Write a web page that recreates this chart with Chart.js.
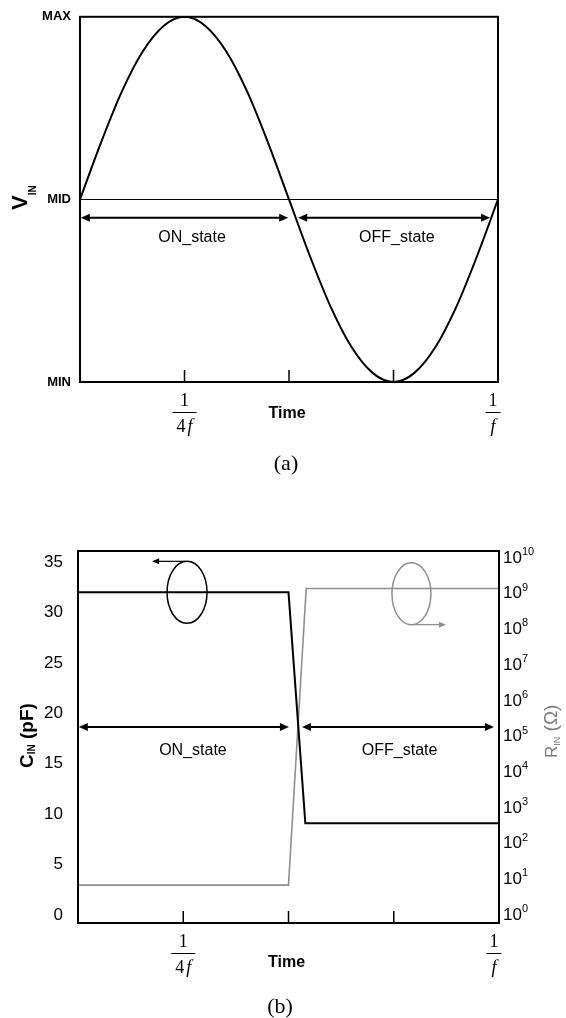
<!DOCTYPE html>
<html>
<head>
<meta charset="utf-8">
<title>V_IN, C_IN and R_IN over one period</title>
<script src="https://cdn.jsdelivr.net/npm/chart.js@4.4.1/dist/chart.umd.min.js"></script>
<style>
body { margin: 0; background: #fff; }
.panel { position: absolute; left: 0; width: 566px; }
#panelA { top: 0; height: 455px; }
#panelB { top: 500px; height: 518px; }
.caption { position: absolute; font: 22px "Liberation Serif", "Times New Roman", serif; color: #000; transform: translate(-50%, -50%); }
</style>
</head>
<body>
<div class="panel" id="panelA"><canvas id="chartA"></canvas></div>
<div class="caption" style="left:286px; top:463px">(a)</div>
<div class="panel" id="panelB"><canvas id="chartB"></canvas></div>
<div class="caption" style="left:280px; top:1006px">(b)</div>
<script>
// (a) input voltage over one period, time in units of 1/f
const timeA = [0, 0.05, 0.1, 0.15, 0.2, 0.25, 0.3, 0.35, 0.4, 0.45, 0.5, 0.55, 0.6, 0.65, 0.7, 0.75, 0.8, 0.85, 0.9, 0.95, 1]
const vIn = [0, 0.31, 0.59, 0.81, 0.95, 1, 0.95, 0.81, 0.59, 0.31, 0, -0.31, -0.59, -0.81, -0.95, -1, -0.95, -0.81, -0.59, -0.31, 0]
const vTicks = [-1, 0, 1]
const vTickLabels = ['MIN', 'MID', 'MAX']

// (b) input capacitance (left axis, pF) and input resistance (right axis, ohm)
const timeC = [0, 0.5, 0.54, 1]
const cIn = [32, 32, 9.1, 9.1]
const timeR = [0, 0.5, 0.542, 1]
const rIn = [6.9, 6.9, 1.4e9, 1.4e9]
const cTicks = [0, 5, 10, 15, 20, 25, 30, 35]
const rTicks = [1e0, 1e1, 1e2, 1e3, 1e4, 1e5, 1e6, 1e7, 1e8, 1e9, 1e10]

// time axis
const timeTicks = [0.25, 0.5, 0.75]
const fracTicks = [0.25, 1]
const fracDigits = ['4', '']

// ON / OFF state arrows (time spans) and their labels
const stateNames = ['ON_state', 'OFF_state']
const stateSpansA = [[0.002, 0.498], [0.522, 0.981]]
const stateTextA = [0.268, 0.758]
const stateSpansB = [[0.002, 0.501], [0.532, 0.988]]
const stateTextB = [0.273, 0.764]

const SANS = '"Liberation Sans", Arial, sans-serif'
const SERIF = '"Liberation Serif", "Times New Roman", serif'

Chart.defaults.font.family = SANS
Chart.defaults.color = '#000'

function arrowHead(ctx, x, y, dir, len, half) {
    ctx.beginPath()
    ctx.moveTo(x, y)
    ctx.lineTo(x - dir * len, y - half)
    ctx.lineTo(x - dir * len, y + half)
    ctx.closePath()
    ctx.fill()
}

function doubleArrow(ctx, x1, x2, y) {
    ctx.lineWidth = 2
    ctx.beginPath()
    ctx.moveTo(x1 + 5, y)
    ctx.lineTo(x2 - 5, y)
    ctx.stroke()
    arrowHead(ctx, x1, y, -1, 9, 4)
    arrowHead(ctx, x2, y, 1, 9, 4)
}

function drawStates(chart, spans, textAt, yLine, yText) {
    const ctx = chart.ctx, x = chart.scales.x
    ctx.strokeStyle = '#000'
    ctx.fillStyle = '#000'
    spans.forEach(s => doubleArrow(ctx, x.getPixelForValue(s[0]), x.getPixelForValue(s[1]), yLine))
    ctx.font = '16px ' + SANS
    ctx.textAlign = 'center'
    ctx.textBaseline = 'middle'
    textAt.forEach((t, i) => ctx.fillText(stateNames[i], x.getPixelForValue(t), yText))
}

// text written bottom to top, parts = [text, font, shift below baseline]
function sideLabel(ctx, x, yBottom, parts, color) {
    ctx.save()
    ctx.translate(x, yBottom)
    ctx.rotate(-Math.PI / 2)
    ctx.fillStyle = color
    ctx.textAlign = 'left'
    ctx.textBaseline = 'alphabetic'
    let pos = 0
    parts.forEach(p => {
        ctx.font = p[1]
        ctx.fillText(p[0], pos, p[2])
        pos += ctx.measureText(p[0]).width
    })
    ctx.restore()
}

function drawTimeAxis(chart, timeDy) {
    const ctx = chart.ctx, area = chart.chartArea, x = chart.scales.x
    ctx.strokeStyle = '#000'
    ctx.fillStyle = '#000'
    ctx.lineWidth = 1.5
    timeTicks.forEach(t => {
        const px = x.getPixelForValue(t)
        ctx.beginPath()
        ctx.moveTo(px, area.bottom)
        ctx.lineTo(px, area.bottom - 12)
        ctx.stroke()
    })
    ctx.lineWidth = 2
    ctx.strokeRect(area.left, area.top, area.right - area.left, area.bottom - area.top)

    ctx.textBaseline = 'middle'
    fracTicks.forEach((t, i) => {
        const px = x.getPixelForValue(t) - (t === 1 ? 5 : 0)
        ctx.font = '18px ' + SERIF
        ctx.textAlign = 'center'
        ctx.fillText('1', px, area.bottom + 19)
        const wd = ctx.measureText(fracDigits[i]).width
        ctx.font = 'italic 18px ' + SERIF
        const wf = ctx.measureText('f').width
        const gap = fracDigits[i] ? 2 : 0
        const total = wd + gap + wf
        const x0 = px - total / 2
        ctx.textAlign = 'left'
        ctx.font = '18px ' + SERIF
        ctx.fillText(fracDigits[i], x0, area.bottom + 45)
        ctx.font = 'italic 18px ' + SERIF
        ctx.fillText('f', x0 + wd + gap, area.bottom + 45)
        const bw = Math.max(total + 8, 15)
        ctx.lineWidth = 1
        ctx.beginPath()
        ctx.moveTo(px - bw / 2, area.bottom + 30.5)
        ctx.lineTo(px + bw / 2, area.bottom + 30.5)
        ctx.stroke()
    })
    ctx.font = 'bold 16px ' + SANS
    ctx.textAlign = 'center'
    ctx.fillText('Time', x.getPixelForValue(0.5) - 2, area.bottom + timeDy)
}

// ---------- (a) ----------
new Chart(document.getElementById('chartA'), {
    type: 'line',
    data: {
        datasets: [{
            label: 'V_IN',
            data: timeA.map((t, i) => ({ x: t, y: vIn[i] })),
            borderColor: '#000',
            borderWidth: 2,
            pointRadius: 0,
            cubicInterpolationMode: 'monotone'
        }]
    },
    options: {
        responsive: true,
        maintainAspectRatio: false,
        animation: false,
        events: [],
        layout: { padding: { top: 11, right: 68, bottom: 73, left: 0 } },
        plugins: { legend: { display: false }, tooltip: { enabled: false } },
        scales: {
            x: { type: 'linear', min: 0, max: 1, display: false },
            y: {
                min: -1,
                max: 1,
                afterFit: s => { s.width = 80 },
                afterBuildTicks: s => { s.ticks = vTicks.map(v => ({ value: v })) },
                ticks: {
                    padding: 9,
                    font: { size: 13, weight: 'bold' },
                    callback: v => vTickLabels[vTicks.indexOf(v)]
                },
                grid: {
                    drawTicks: false,
                    lineWidth: 1,
                    color: c => (c.tick && c.tick.value === 0) ? '#000' : 'rgba(0,0,0,0)'
                },
                border: { display: false }
            }
        }
    },
    plugins: [{
        id: 'panelA',
        afterDraw(chart) {
            const ctx = chart.ctx, y = chart.scales.y
            ctx.save()
            drawTimeAxis(chart, 32)
            drawStates(chart, stateSpansA, stateTextA, y.getPixelForValue(-0.1), y.getPixelForValue(-0.207))
            sideLabel(ctx, 27, 210, [['V', 'bold 22px ' + SANS, 0], ['IN', 'bold 10px ' + SANS, 9]], '#000')
            ctx.restore()
        }
    }]
})

// ---------- (b) ----------
new Chart(document.getElementById('chartB'), {
    type: 'line',
    data: {
        datasets: [{
            label: 'C_IN',
            data: timeC.map((t, i) => ({ x: t, y: cIn[i] })),
            yAxisID: 'y',
            borderColor: '#000',
            borderWidth: 2,
            pointRadius: 0
        }, {
            label: 'R_IN',
            data: timeR.map((t, i) => ({ x: t, y: rIn[i] })),
            yAxisID: 'y1',
            borderColor: '#8f8f8f',
            borderWidth: 1.6,
            pointRadius: 0
        }]
    },
    options: {
        responsive: true,
        maintainAspectRatio: false,
        animation: false,
        events: [],
        layout: { padding: { top: 51, right: 0, bottom: 95, left: 0 } },
        plugins: { legend: { display: false }, tooltip: { enabled: false } },
        scales: {
            x: { type: 'linear', min: 0, max: 1, display: false },
            y: {
                position: 'left',
                min: -0.8,
                max: 36.1,
                afterFit: s => { s.width = 78 },
                afterBuildTicks: s => { s.ticks = cTicks.map(v => ({ value: v })) },
                ticks: { padding: 15, font: { size: 17 } },
                grid: { display: false, drawTicks: false },
                border: { display: false }
            },
            y1: {
                type: 'logarithmic',
                position: 'right',
                min: 0.637,
                max: 1.57e10,
                afterFit: s => { s.width = 67 },
                afterBuildTicks: s => { s.ticks = rTicks.map(v => ({ value: v })) },
                // labels are written by the panel plugin so the exponent can be raised
                ticks: { display: false },
                grid: { display: false, drawTicks: false },
                border: { display: false }
            }
        }
    },
    plugins: [{
        id: 'panelB',
        afterDraw(chart) {
            const ctx = chart.ctx, x = chart.scales.x, y = chart.scales.y, y1 = chart.scales.y1
            ctx.save()
            drawTimeAxis(chart, 40)
            drawStates(chart, stateSpansB, stateTextB, y.getPixelForValue(18.64), y.getPixelForValue(16.26))

            // right axis: 10 with raised exponent
            ctx.fillStyle = '#000'
            ctx.textAlign = 'left'
            ctx.textBaseline = 'middle'
            rTicks.forEach(v => {
                const py = y1.getPixelForValue(v)
                const lx = chart.chartArea.right + 4
                ctx.font = '17px ' + SANS
                ctx.fillText('10', lx, py)
                const w = ctx.measureText('10').width
                ctx.font = '11px ' + SANS
                ctx.fillText(String(Math.round(Math.log10(v))), lx + w, py - 6)
            })

            // loop marking the C_IN curve, arrow to the left axis
            const cx = x.getPixelForValue(0.259), cy = y.getPixelForValue(32)
            ctx.strokeStyle = '#000'
            ctx.fillStyle = '#000'
            ctx.lineWidth = 1.5
            ctx.beginPath()
            ctx.ellipse(cx, cy, 20, 31, 0, 0, Math.PI * 2)
            ctx.stroke()
            const tipL = x.getPixelForValue(0.176)
            ctx.lineWidth = 1.2
            ctx.beginPath()
            ctx.moveTo(cx - 2, cy - 31)
            ctx.lineTo(tipL + 5, cy - 31)
            ctx.stroke()
            arrowHead(ctx, tipL, cy - 31, -1, 7, 3)

            // loop marking the R_IN curve, arrow to the right axis
            const gx = x.getPixelForValue(0.792), gy = y1.getPixelForValue(1e9)
            ctx.strokeStyle = '#8f8f8f'
            ctx.fillStyle = '#8f8f8f'
            ctx.lineWidth = 1.5
            ctx.beginPath()
            ctx.ellipse(gx, gy, 19.5, 31, 0, 0, Math.PI * 2)
            ctx.stroke()
            const tipR = x.getPixelForValue(0.874)
            ctx.lineWidth = 1.2
            ctx.beginPath()
            ctx.moveTo(gx - 3, gy + 31)
            ctx.lineTo(tipR - 5, gy + 31)
            ctx.stroke()
            arrowHead(ctx, tipR, gy + 31, 1, 7, 3)

            // axis titles (canvas starts 500px down the page)
            sideLabel(ctx, 33, 268, [['C', 'bold 19px ' + SANS, 0], ['IN', 'bold 10px ' + SANS, 2], [' (pF)', 'bold 19px ' + SANS, 0]], '#000')
            sideLabel(ctx, 557, 258, [['R', '17px ' + SANS, 0], ['IN', '9px ' + SANS, 3], [' (Ω)', '19px ' + SANS, 0]], '#7a7a7a')
            ctx.restore()
        }
    }]
})
</script>
</body>
</html>
